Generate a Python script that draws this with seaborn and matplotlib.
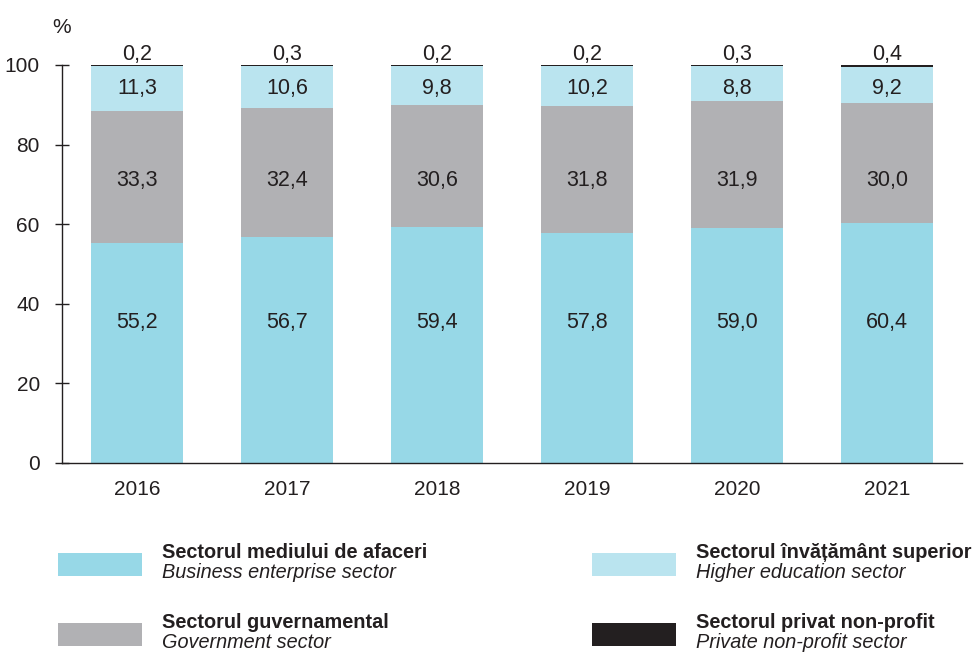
import numpy as np
import pandas as pd
import seaborn as sns
import matplotlib.pyplot as plt
from matplotlib.patches import Rectangle

# data (%)
years = ["2016", "2017", "2018", "2019", "2020", "2021"]
business = [55.2, 56.7, 59.4, 57.8, 59.0, 60.4]
government = [33.3, 32.4, 30.6, 31.8, 31.9, 30.0]
higher_ed = [11.3, 10.6, 9.8, 10.2, 8.8, 9.2]
private_np = [0.2, 0.3, 0.2, 0.2, 0.3, 0.4]

legend_ro = ["Sectorul mediului de afaceri", "Sectorul guvernamental",
             "Sectorul învățământ superior", "Sectorul privat non-profit"]
legend_en = ["Business enterprise sector", "Government sector",
             "Higher education sector", "Private non-profit sector"]

c_bus = "#97d8e7"
c_gov = "#b1b1b4"
c_high = "#bae4ef"
c_priv = "#231f20"
txt = "#231f20"

sns.set_style("white")
plt.rcParams["font.family"] = ["Liberation Sans", "DejaVu Sans"]

df = pd.DataFrame({"year": years, "bus": business, "gov": government,
                   "high": higher_ed, "priv": private_np})
df["c1"] = df["bus"]
df["c2"] = df["c1"] + df["gov"]
df["c3"] = df["c2"] + df["high"]
df["c4"] = df["c3"] + df["priv"]

fig = plt.figure(figsize=(9.79, 6.52), dpi=100)
ax = fig.add_axes([62 / 979, 1 - 463 / 652, 900 / 979, 398 / 652])

# cumulative bars drawn from tallest to shortest
for col, color in [("c4", c_priv), ("c3", c_high), ("c2", c_gov), ("c1", c_bus)]:
    sns.barplot(data=df, x="year", y=col, color=color, width=0.61,
                saturation=1, ax=ax, linewidth=0)

# value labels sit at one fixed height per series, like the original
fs = 15
lab_fs = 15.5
rows = [(business, 35.2), (government, 71.1), (higher_ed, 94.2)]
for i in range(len(years)):
    for vals, yy in rows:
        ax.text(i, yy, f"{vals[i]:.1f}".replace(".", ","),
                ha="center", va="center", fontsize=lab_fs, color=txt)
    ax.text(i, df["c4"][i] + 0.1, f"{private_np[i]:.1f}".replace(".", ","),
            ha="center", va="bottom", fontsize=lab_fs, color=txt)

ax.set_xlim(-0.5, 5.5)
ax.set_ylim(0, 100)
ax.set_yticks([0, 20, 40, 60, 80, 100])
ax.set_xlabel("")
ax.set_ylabel("")
ax.set_xticks(np.arange(-0.5, 6, 1), minor=True)
ax.tick_params(axis="x", which="major", length=0, labelsize=fs, colors=txt, pad=12)
ax.tick_params(axis="x", which="minor", length=9, width=1, direction="inout", color=txt)
ax.tick_params(axis="y", length=10, width=1, direction="inout", labelsize=fs,
               colors=txt, pad=11, left=True)
sns.despine(ax=ax, top=True, right=True)
for s in ["left", "bottom"]:
    ax.spines[s].set_color(txt)
    ax.spines[s].set_linewidth(1)
ax.text(-0.5, 107, "%", ha="center", va="bottom", fontsize=fs, color=txt,
        transform=ax.transData, clip_on=False)

# legend
items = [(c_bus, 58, 553), (c_gov, 58, 623), (c_high, 592, 553), (c_priv, 592, 623)]
for (color, x, y), ro, en in zip(items, legend_ro, legend_en):
    fig.add_artist(Rectangle((x / 979, 1 - (y + 23) / 652), 84 / 979, 23 / 652,
                             transform=fig.transFigure, color=color, lw=0))
    fig.text((x + 104) / 979, 1 - y / 652, ro, fontsize=14.3,
             fontweight="bold", color=txt, va="center")
    fig.text((x + 104) / 979, 1 - (y + 20) / 652, en, fontsize=14.3,
             fontstyle="italic", color=txt, va="center")

fig.savefig("out.png", dpi=100)
